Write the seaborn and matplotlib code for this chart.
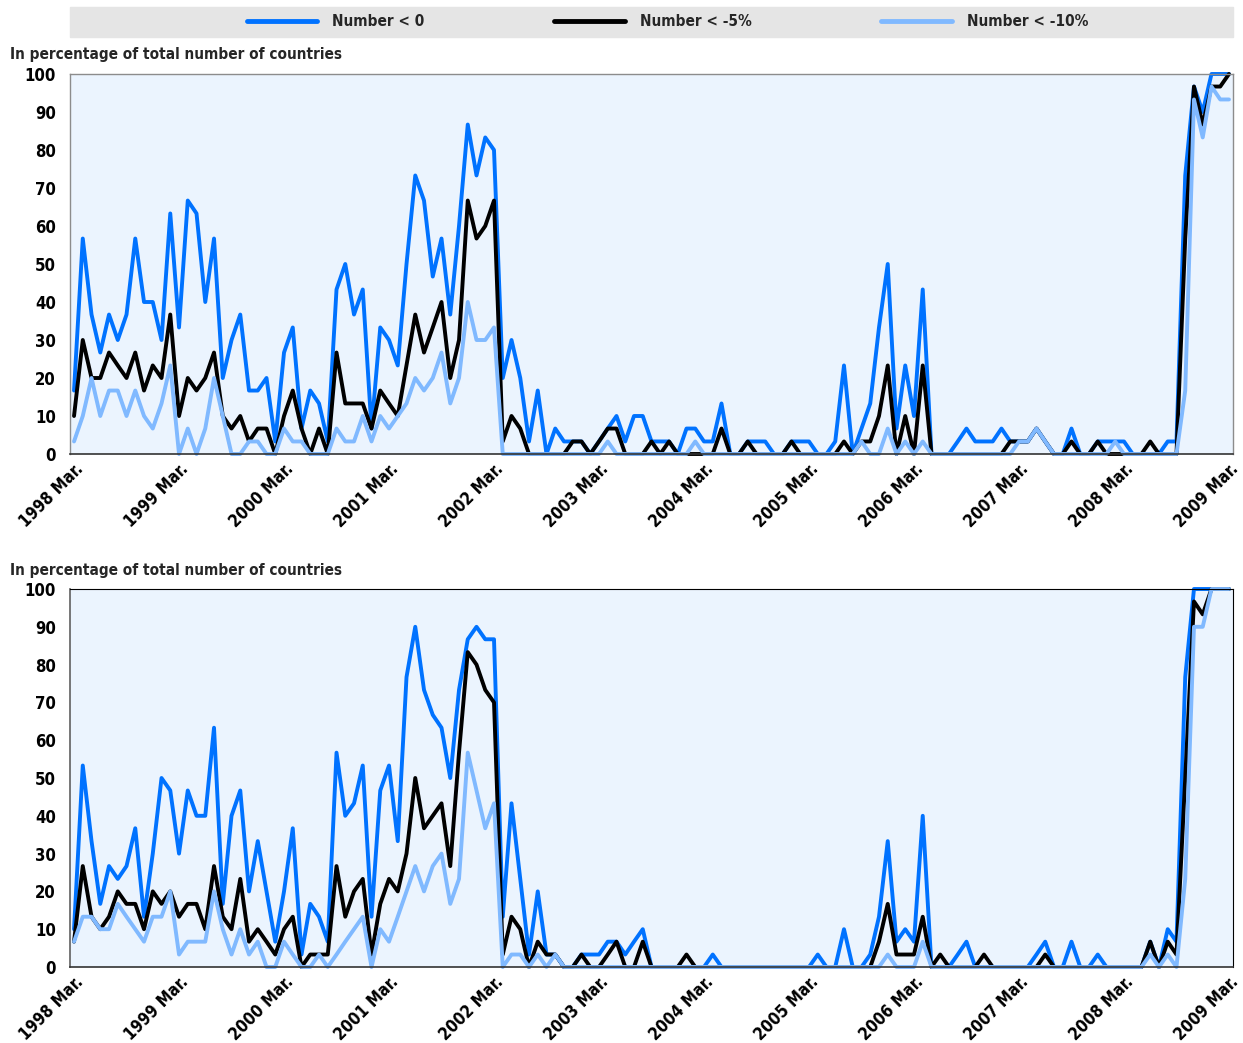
import matplotlib
matplotlib.use("Agg")
import matplotlib.pyplot as plt
from matplotlib.patches import Rectangle
import seaborn as sns
import pandas as pd
import numpy as np

# monthly observations, 1998 Mar. to 2009 Mar. (one row per year of 12 months)
years = ["1998", "1999", "2000", "2001", "2002", "2003",
         "2004", "2005", "2006", "2007", "2008", "2009"]
series_names = ["Number < 0", "Number < -5%", "Number < -10%"]
colors = ["#0072ff", "#000000", "#80b9ff"]

top_lt0 = [16.7, 56.7, 36.7, 26.7, 36.7, 30, 36.7, 56.7, 40, 40, 30, 63.3,
           33.3, 66.7, 63.3, 40, 56.7, 20, 30, 36.7, 16.7, 16.7, 20, 3.3,
           26.7, 33.3, 6.7, 16.7, 13.3, 3.3, 43.3, 50, 36.7, 43.3, 6.7, 33.3,
           30, 23.3, 50, 73.3, 66.7, 46.7, 56.7, 36.7, 60, 86.7, 73.3, 83.3,
           80, 20, 30, 20, 3.3, 16.7, 0, 6.7, 3.3, 3.3, 3.3, 0,
           3.3, 6.7, 10, 3.3, 10, 10, 3.3, 3.3, 3.3, 0, 6.7, 6.7,
           3.3, 3.3, 13.3, 0, 0, 3.3, 3.3, 3.3, 0, 0, 3.3, 3.3,
           3.3, 0, 0, 3.3, 23.3, 0, 6.7, 13.3, 33.3, 50, 6.7, 23.3,
           10, 43.3, 0, 0, 0, 3.3, 6.7, 3.3, 3.3, 3.3, 6.7, 3.3,
           3.3, 3.3, 6.7, 3.3, 0, 0, 6.7, 0, 0, 3.3, 3.3, 3.3,
           3.3, 0, 0, 0, 0, 3.3, 3.3, 73.3, 96.7, 90, 100, 100,
           100]
top_lt5 = [10, 30, 20, 20, 26.7, 23.3, 20, 26.7, 16.7, 23.3, 20, 36.7,
           10, 20, 16.7, 20, 26.7, 10, 6.7, 10, 3.3, 6.7, 6.7, 0,
           10, 16.7, 6.7, 0, 6.7, 0, 26.7, 13.3, 13.3, 13.3, 6.7, 16.7,
           13.3, 10, 23.3, 36.7, 26.7, 33.3, 40, 20, 30, 66.7, 56.7, 60,
           66.7, 3.3, 10, 6.7, 0, 0, 0, 0, 0, 3.3, 3.3, 0,
           3.3, 6.7, 6.7, 0, 0, 0, 3.3, 0, 3.3, 0, 0, 0,
           0, 0, 6.7, 0, 0, 3.3, 0, 0, 0, 0, 3.3, 0,
           0, 0, 0, 0, 3.3, 0, 3.3, 3.3, 10, 23.3, 0, 10,
           0, 23.3, 0, 0, 0, 0, 0, 0, 0, 0, 0, 3.3,
           3.3, 3.3, 6.7, 3.3, 0, 0, 3.3, 0, 0, 3.3, 0, 0,
           0, 0, 0, 3.3, 0, 0, 0, 56.7, 96.7, 86.7, 96.7, 96.7,
           100]
top_lt10 = [3.3, 10, 20, 10, 16.7, 16.7, 10, 16.7, 10, 6.7, 13.3, 23.3,
            0, 6.7, 0, 6.7, 20, 10, 0, 0, 3.3, 3.3, 0, 0,
            6.7, 3.3, 3.3, 0, 0, 0, 6.7, 3.3, 3.3, 10, 3.3, 10,
            6.7, 10, 13.3, 20, 16.7, 20, 26.7, 13.3, 20, 40, 30, 30,
            33.3, 0, 0, 0, 0, 0, 0, 0, 0, 0, 0, 0,
            0, 3.3, 0, 0, 0, 0, 0, 0, 0, 0, 0, 3.3,
            0, 0, 0, 0, 0, 0, 0, 0, 0, 0, 0, 0,
            0, 0, 0, 0, 0, 0, 3.3, 0, 0, 6.7, 0, 3.3,
            0, 3.3, 0, 0, 0, 0, 0, 0, 0, 0, 0, 0,
            3.3, 3.3, 6.7, 3.3, 0, 0, 0, 0, 0, 0, 0, 3.3,
            0, 0, 0, 0, 0, 0, 0, 16.7, 93.3, 83.3, 96.7, 93.3,
            93.3]

bot_lt0 = [10, 53.3, 33.3, 16.7, 26.7, 23.3, 26.7, 36.7, 13.3, 30, 50, 46.7,
           30, 46.7, 40, 40, 63.3, 16.7, 40, 46.7, 20, 33.3, 20, 6.7,
           20, 36.7, 3.3, 16.7, 13.3, 6.7, 56.7, 40, 43.3, 53.3, 13.3, 46.7,
           53.3, 33.3, 76.7, 90, 73.3, 66.7, 63.3, 50, 73.3, 86.7, 90, 86.7,
           86.7, 13.3, 43.3, 23.3, 3.3, 20, 3.3, 3.3, 0, 0, 3.3, 3.3,
           3.3, 6.7, 6.7, 3.3, 6.7, 10, 0, 0, 0, 0, 0, 0,
           0, 3.3, 0, 0, 0, 0, 0, 0, 0, 0, 0, 0,
           0, 3.3, 0, 0, 10, 0, 0, 3.3, 13.3, 33.3, 6.7, 10,
           6.7, 40, 0, 0, 0, 3.3, 6.7, 0, 0, 0, 0, 0,
           0, 0, 3.3, 6.7, 0, 0, 6.7, 0, 0, 3.3, 0, 0,
           0, 0, 0, 6.7, 0, 10, 6.7, 76.7, 100, 100, 100, 100,
           100]
bot_lt5 = [6.7, 26.7, 13.3, 10, 13.3, 20, 16.7, 16.7, 10, 20, 16.7, 20,
           13.3, 16.7, 16.7, 10, 26.7, 13.3, 10, 23.3, 6.7, 10, 6.7, 3.3,
           10, 13.3, 0, 3.3, 3.3, 3.3, 26.7, 13.3, 20, 23.3, 3.3, 16.7,
           23.3, 20, 30, 50, 36.7, 40, 43.3, 26.7, 56.7, 83.3, 80, 73.3,
           70, 3.3, 13.3, 10, 0, 6.7, 3.3, 3.3, 0, 0, 3.3, 0,
           0, 3.3, 6.7, 0, 0, 6.7, 0, 0, 0, 0, 3.3, 0,
           0, 0, 0, 0, 0, 0, 0, 0, 0, 0, 0, 0,
           0, 0, 0, 0, 0, 0, 0, 0, 6.7, 16.7, 3.3, 3.3,
           3.3, 13.3, 0, 3.3, 0, 0, 0, 0, 3.3, 0, 0, 0,
           0, 0, 0, 3.3, 0, 0, 0, 0, 0, 0, 0, 0,
           0, 0, 0, 6.7, 0, 6.7, 3.3, 50, 96.7, 93.3, 100, 100,
           100]
bot_lt10 = [6.7, 13.3, 13.3, 10, 10, 16.7, 13.3, 10, 6.7, 13.3, 13.3, 20,
            3.3, 6.7, 6.7, 6.7, 20, 10, 3.3, 10, 3.3, 6.7, 0, 0,
            6.7, 3.3, 0, 0, 3.3, 0, 3.3, 6.7, 10, 13.3, 0, 10,
            6.7, 13.3, 20, 26.7, 20, 26.7, 30, 16.7, 23.3, 56.7, 46.7, 36.7,
            43.3, 0, 3.3, 3.3, 0, 3.3, 0, 3.3, 0, 0, 0, 0,
            0, 0, 0, 0, 0, 0, 0, 0, 0, 0, 0, 0,
            0, 0, 0, 0, 0, 0, 0, 0, 0, 0, 0, 0,
            0, 0, 0, 0, 0, 0, 0, 0, 0, 3.3, 0, 0,
            0, 6.7, 0, 0, 0, 0, 0, 0, 0, 0, 0, 0,
            0, 0, 0, 0, 0, 0, 0, 0, 0, 0, 0, 0,
            0, 0, 0, 3.3, 0, 3.3, 0, 23.3, 90, 90, 100, 100,
            100]


def long_frame(vals):
    n = len(vals[0])
    rows = []
    for name, v in zip(series_names, vals):
        rows.append(pd.DataFrame({"month": np.arange(n), "pct": v, "series": name}))
    return pd.concat(rows, ignore_index=True)


top = long_frame([top_lt0, top_lt5, top_lt10])
bot = long_frame([bot_lt0, bot_lt5, bot_lt10])

sns.set_theme(style="white")
# narrow look: condensed bold DejaVu
plt.rcParams["font.family"] = ["DejaVu Sans"]
plt.rcParams["font.stretch"] = "condensed"
plt.rcParams["font.weight"] = "bold"

W, H = 1243, 1043
fig = plt.figure(figsize=(W / 100, H / 100), dpi=100)
left, width = 70 / W, 1163 / W
ax1 = fig.add_axes([left, 1 - 454 / H, width, 380 / H])
ax2 = fig.add_axes([left, 1 - 967 / H, width, 378 / H])

for ax, d in [(ax1, top), (ax2, bot)]:
    sns.lineplot(data=d, x="month", y="pct", hue="series", hue_order=series_names,
                 palette=colors, linewidth=2.8, sort=False, ax=ax, legend=(ax is ax1))
    for ln in ax.lines:
        ln.set_clip_on(False)
    ax.set_facecolor("#ebf4fe")
    ax.set_xlim(-0.46, 132.46)
    ax.set_ylim(0, 100)
    ax.set_yticks(range(0, 101, 10))
    ax.set_xticks(range(0, 133, 12))
    ax.set_xticklabels([y + " Mar." for y in years], rotation=45, ha="right",
                       rotation_mode="anchor")
    ax.set_xlabel("")
    ax.set_ylabel("")
    ax.tick_params(axis="both", labelsize=12, colors="#000000", length=0, pad=4)
    ax.tick_params(axis="y", pad=10)

# spines
for s in ["top", "right", "left"]:
    ax1.spines[s].set_color("#8c8c8c")
    ax1.spines[s].set_linewidth(1.0)
ax1.spines["bottom"].set_color("#333333")
ax1.spines["bottom"].set_linewidth(1.2)
for s in ["top", "right"]:
    ax2.spines[s].set_color("#000000")
    ax2.spines[s].set_linewidth(0.8)
ax2.spines["left"].set_color("#666666")
ax2.spines["bottom"].set_color("#333333")
ax2.spines["bottom"].set_linewidth(1.2)

# bottom panel: inward ticks
ax2.tick_params(axis="y", direction="in", length=6, color="#555555", pad=10)
ax2.set_xticks(np.arange(0.6, 132, 3), minor=True)
ax2.tick_params(axis="x", which="minor", direction="in", length=6, color="#555555")

# legend in a grey band on top
handles, labels = ax1.get_legend_handles_labels()
ax1.get_legend().remove()
fig.patches.append(Rectangle((70 / W, 1 - 37 / H), 1163 / W, 30 / H,
                             transform=fig.transFigure, color="#e5e5e5", zorder=0))
leg = fig.legend(handles, labels, loc="center", bbox_to_anchor=(667.5 / W, 1 - 22 / H),
                 ncol=3, frameon=False, fontsize=11, handlelength=4.6,
                 handletextpad=1.0, columnspacing=8.5)
for ln in leg.get_lines():
    ln.set_linewidth(3.5)

for ypix in [55, 570]:
    fig.text(10 / W, 1 - ypix / H, "In percentage of total number of countries",
             fontsize=11, ha="left", va="center")

fig.savefig("out.png", dpi=100)
